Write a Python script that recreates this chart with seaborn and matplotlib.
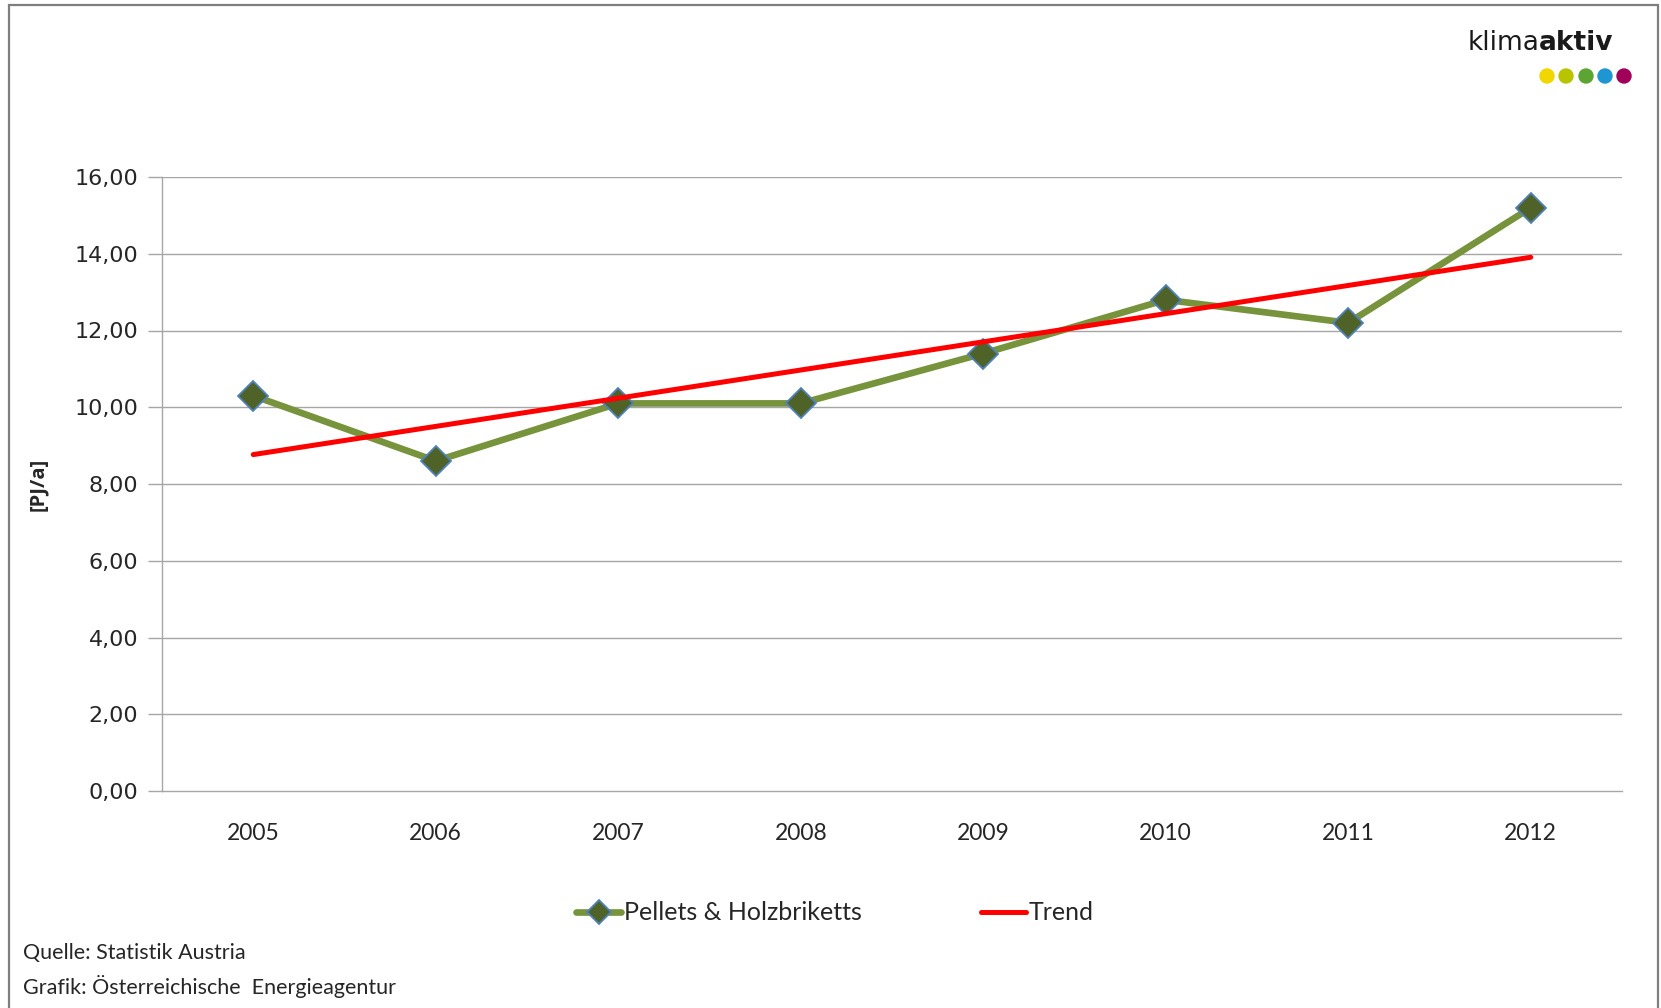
import numpy as np
import pandas as pd
import matplotlib
matplotlib.use('Agg')
import matplotlib.pyplot as plt
import seaborn as sns
from matplotlib.patches import Rectangle, Circle

# Daten: Pellets & Holzbriketts, [PJ/a]
years = [2005, 2006, 2007, 2008, 2009, 2010, 2011, 2012]
pellets = [10.3, 8.6, 10.1, 10.1, 11.4, 12.8, 12.2, 15.2]
y_ticks = [0, 2, 4, 6, 8, 10, 12, 14, 16]
y_tick_labels = ['0,00', '2,00', '4,00', '6,00', '8,00', '10,00', '12,00', '14,00', '16,00']

df = pd.DataFrame({'Jahr': years, 'PJ': pellets})

sns.set_style('white')
plt.rcParams['font.family'] = ['Lato', 'DejaVu Sans']

fig = plt.figure(figsize=(16.61, 10.08), dpi=100)
ax = fig.add_axes([162 / 1661, 1 - 791 / 1008, 1460 / 1661, 614 / 1008])

grid_col = '#A6A6A6'
for v in y_ticks[1:]:
    ax.axhline(v, color=grid_col, lw=1.0, zorder=1)

sns.lineplot(data=df, x='Jahr', y='PJ', ax=ax, color='#77933C', lw=4.8,
             marker='D', markersize=15.5, markerfacecolor='#4F6228',
             markeredgecolor='#4F81BD', markeredgewidth=1.3,
             label='Pellets & Holzbriketts', zorder=3)

# Excel-Trendlinie (linear)
sns.regplot(data=df, x='Jahr', y='PJ', ax=ax, scatter=False, ci=None,
            truncate=True, color='#FF0000', label='Trend',
            line_kws={'lw': 3.6, 'zorder': 4, 'solid_capstyle': 'round'})

ax.set_xlim(2004.5, 2012.5)
ax.set_ylim(0, 16)
ax.set_xticks(years)
ax.set_xticklabels([str(y) for y in years], fontsize=16.5)
ax.set_xticks(np.arange(2004.5, 2013, 1.0), minor=True)
ax.tick_params(axis='x', which='major', direction='in', length=7, width=1,
               color=grid_col, pad=23)
ax.tick_params(axis='x', which='minor', direction='out', length=10, width=1,
               color=grid_col)
ax.set_yticks(y_ticks)
ax.set_yticklabels(y_tick_labels, fontdict={'family': 'DejaVu Sans', 'size': 16})
ax.tick_params(axis='y', direction='out', length=10, width=1, color=grid_col,
               pad=7, left=True)

for s in ['top', 'right']:
    ax.spines[s].set_visible(False)
for s in ['left', 'bottom']:
    ax.spines[s].set_color(grid_col)
    ax.spines[s].set_linewidth(1.0)

ax.set_xlabel('')
ax.set_ylabel('[PJ/a]', fontsize=14.5, fontweight='bold', family='Open Sans')
ax.yaxis.set_label_coords(-0.078, 0.5)

if ax.get_legend() is not None:
    ax.get_legend().remove()
handles = [ax.lines[-2], ax.lines[-1]]
labels = ['Pellets & Holzbriketts', 'Trend']
fig.legend(handles, labels, loc='center', bbox_to_anchor=(835 / 1661, 1 - 913 / 1008),
           ncol=2, frameon=False, fontsize=18, handlelength=1.8,
           handletextpad=0.1, columnspacing=4.8, markerscale=0.8)

fig.text(23 / 1661, 1 - 953 / 1008, 'Quelle: Statistik Austria', fontsize=15.5,
         va='center', ha='left')
fig.text(23 / 1661, 1 - 987 / 1008, 'Grafik: Österreichische  Energieagentur',
         fontsize=15.5, va='center', ha='left')

# Logo klimaaktiv
fig.text(1539 / 1661, 1 - 50 / 1008, 'klima', fontsize=19, ha='right',
         va='baseline', family='DejaVu Sans', color='#1a1a1a')
fig.text(1539 / 1661, 1 - 50 / 1008, 'aktiv', fontsize=19, ha='left',
         va='baseline', family='DejaVu Sans', fontweight='bold', color='#1a1a1a')
dot_x = [1547, 1566, 1586, 1605, 1624]
dot_cols = ['#F2D600', '#B8C400', '#5DA533', '#1E96D2', '#A1005A']
for xp, c in zip(dot_x, dot_cols):
    fig.add_artist(Circle((xp / 100, (1008 - 76) / 100), 0.07, color=c,
                          transform=fig.dpi_scale_trans))

# Rahmen
fig.add_artist(Rectangle((8.5 / 1661, -0.02), (1658 - 8.5) / 1661, 1.02 - 5 / 1008,
                         transform=fig.transFigure, fill=False,
                         edgecolor='#7F7F7F', lw=1.6, clip_on=False))

fig.savefig('out.png', dpi=100)
